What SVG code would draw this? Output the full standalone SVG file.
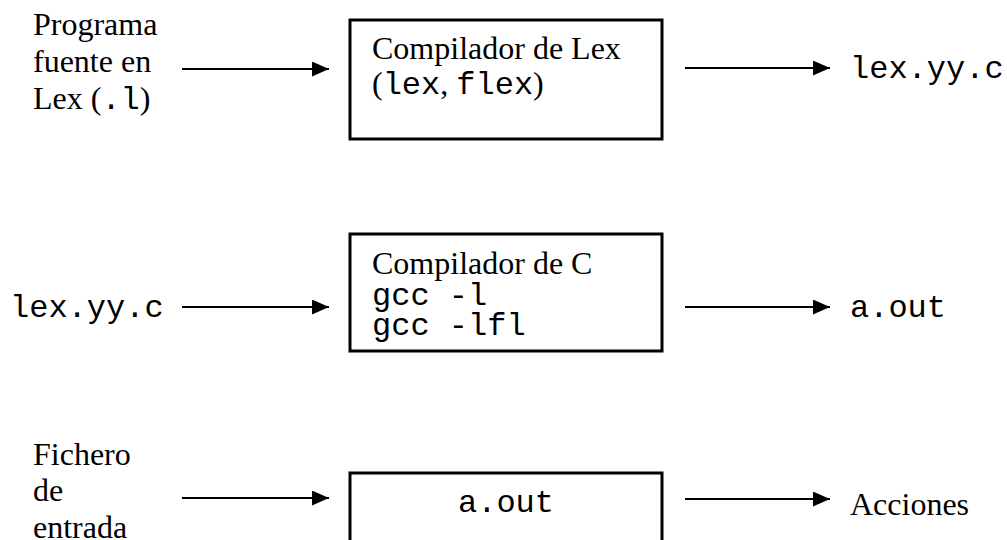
<svg xmlns="http://www.w3.org/2000/svg" width="1007" height="540" viewBox="0 0 1007 540">
  <style>
    .serif { font-family: "Liberation Serif", "Times New Roman", serif; font-size: 32px; fill: #000; }
    .mono { font-family: "Liberation Mono", "Courier New", monospace; font-size: 32px; fill: #000; }
    .box { fill: #fff; stroke: #000; stroke-width: 3; }
    .arrow { stroke: #000; stroke-width: 2; fill: none; marker-end: url(#head); }
  </style>
  <defs>
    <marker id="head" markerUnits="userSpaceOnUse" markerWidth="18" markerHeight="16" refX="17" refY="7.5" orient="auto">
      <path d="M0,0 L17,7.5 L0,15 Z" fill="#000"/>
    </marker>
  </defs>
  <rect width="1007" height="540" fill="#fff"/>

  <!-- stage 1: lex source through the Lex compiler -->
  <g id="source-lex">
    <text class="serif" x="33" y="35">Programa</text>
    <text class="serif" x="33" y="72">fuente en</text>
    <text class="serif" x="33" y="109">Lex (<tspan class="mono">.l</tspan>)</text>
  </g>
  <g id="lex-compiler">
    <rect class="box" x="350" y="20" width="312" height="119"/>
    <text class="serif" x="372" y="59">Compilador de Lex</text>
    <text class="serif" x="372" y="94">(<tspan class="mono">lex</tspan>, <tspan class="mono">flex</tspan>)</text>
  </g>
  <g id="lexyy-out">
    <text class="mono" x="850" y="78">lex.yy.c</text>
  </g>

  <!-- stage 2: generated C through the C compiler -->
  <g id="lexyy-in">
    <text class="mono" x="10" y="317">lex.yy.c</text>
  </g>
  <g id="c-compiler">
    <rect class="box" x="350" y="234" width="312" height="117"/>
    <text class="serif" x="372" y="274">Compilador de C</text>
    <text class="mono" x="372" y="305">gcc -l</text>
    <text class="mono" x="372" y="335">gcc -lfl</text>
  </g>
  <g id="aout-out">
    <text class="mono" x="850" y="317">a.out</text>
  </g>

  <!-- stage 3: running the analyser on an input file -->
  <g id="input-file">
    <text class="serif" x="33" y="465">Fichero</text>
    <text class="serif" x="33" y="501">de</text>
    <text class="serif" x="33" y="538">entrada</text>
  </g>
  <g id="aout-run">
    <rect class="box" x="350" y="473" width="312" height="80"/>
    <text class="mono" x="458" y="512">a.out</text>
  </g>
  <g id="actions">
    <text class="serif" x="850" y="515">Acciones</text>
  </g>

  <g id="connectors">
    <line class="arrow" x1="182" y1="69" x2="329" y2="69"/>
    <line class="arrow" x1="685" y1="68" x2="830" y2="68"/>
    <line class="arrow" x1="182" y1="307" x2="329" y2="307"/>
    <line class="arrow" x1="685" y1="307" x2="830" y2="307"/>
    <line class="arrow" x1="182" y1="498" x2="329" y2="498"/>
    <line class="arrow" x1="685" y1="499" x2="830" y2="499"/>
  </g>
</svg>
